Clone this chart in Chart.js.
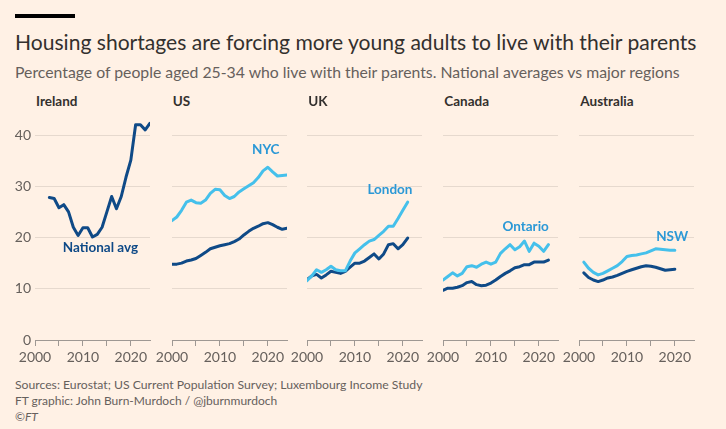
<!DOCTYPE html>
<html>
<head>
<meta charset="utf-8">
<script src="https://cdn.jsdelivr.net/npm/chart.js@4"></script>
<style>
body{margin:0;background:#fff1e5;width:726px;height:429px;overflow:hidden;position:relative;font-family:Lato,"Noto Sans",sans-serif;}
.bar{position:absolute;left:15px;top:14px;width:60px;height:4px;background:#000;}
.txt{position:absolute;left:15px;white-space:nowrap;}
.title{top:29px;font-size:21px;color:#33302e;}
.sub{top:62px;font-size:15px;color:#66605c;}
.foot{font-size:12px;color:#66605c;}
.ptitle{position:absolute;top:93px;font-size:13.5px;font-weight:bold;color:#33302e;}
canvas{position:absolute;}
</style>
</head>
<body>
<div class="bar"></div>
<div class="txt title" data-fit="682">Housing shortages are forcing more young adults to live with their parents</div>
<div class="txt sub" data-fit="665">Percentage of people aged 25-34 who live with their parents. National averages vs major regions</div>
<div class="txt foot" style="top:377px" data-fit="408">Sources: Eurostat; US Current Population Survey; Luxembourg Income Study</div>
<div class="txt foot" style="top:393px">FT graphic: John Burn-Murdoch / @jburnmurdoch</div>
<div class="txt foot" style="top:409px">©<i>FT</i></div>

<script>
// ---- data ----
const panelNames = ["Ireland", "US", "UK", "Canada", "Australia"];
const regionNames = [null, "NYC", "London", "Ontario", "NSW"];

const irelandYears = [2003,2004,2005,2006,2007,2008,2009,2010,2011,2012,2013,2014,2015,2016,2017,2018,2019,2020,2021,2022,2023,2024];
const irelandAvg = [27.8,27.6,25.8,26.4,25.0,22.0,20.4,21.9,21.9,20.1,20.6,22.0,25.0,28.0,25.6,28.0,31.8,35.1,42.0,42.0,41.0,42.3];

const usYears = [2000,2001,2002,2003,2004,2005,2006,2007,2008,2009,2010,2011,2012,2013,2014,2015,2016,2017,2018,2019,2020,2021,2022,2023,2024];
const usAvg = [14.8,14.8,15.0,15.4,15.6,15.9,16.5,17.1,17.8,18.1,18.4,18.6,18.8,19.2,19.7,20.5,21.2,21.8,22.2,22.7,22.9,22.5,22.0,21.6,21.8];
const nyc = [23.3,24.0,25.3,26.9,27.3,26.8,26.7,27.3,28.6,29.4,29.3,28.2,27.6,28.0,28.9,29.5,30.1,30.7,31.7,33.0,33.7,32.8,32.0,32.1,32.2];

const ukYears = [2000,2001,2002,2003,2004,2005,2006,2007,2008,2009,2010,2011,2012,2013,2014,2015,2016,2017,2018,2019,2020,2021];
const ukAvg = [11.8,12.5,12.8,12.1,12.7,13.4,13.2,13.0,13.4,14.2,15.0,15.0,15.4,16.1,16.8,15.8,16.8,18.6,18.8,17.8,18.6,19.9];
const london = [11.6,12.5,13.7,13.2,13.7,14.4,13.7,13.5,13.5,15.4,17.0,17.8,18.6,19.3,19.6,20.4,21.2,22.2,22.2,23.7,25.3,26.9];

const canadaYears = [2000,2001,2002,2003,2004,2005,2006,2007,2008,2009,2010,2011,2012,2013,2014,2015,2016,2017,2018,2019,2020,2021,2022];
const canadaAvg = [9.7,10.1,10.1,10.3,10.6,11.2,11.4,10.8,10.6,10.7,11.1,11.7,12.4,13.0,13.5,14.1,14.3,14.7,14.7,15.2,15.2,15.2,15.6];
const ontario = [11.7,12.4,13.1,12.5,13.0,14.3,14.5,14.2,14.8,15.2,14.8,15.2,16.9,17.8,18.6,17.6,18.2,19.3,17.3,18.9,18.3,17.3,18.6];

const ausYears = [2001,2002,2003,2004,2005,2006,2007,2008,2009,2010,2011,2012,2013,2014,2015,2016,2017,2018,2019,2020];
const ausAvg = [13.1,12.2,11.7,11.4,11.7,12.1,12.3,12.6,13.0,13.4,13.7,14.0,14.3,14.5,14.4,14.2,13.9,13.6,13.7,13.8];
const nsw = [15.2,14.0,13.2,12.7,13.0,13.5,14.0,14.5,15.3,16.3,16.5,16.6,16.8,17.0,17.4,17.8,17.7,17.6,17.5,17.5];

const yTicks = [0, 10, 20, 30, 40];
const xLabels = [2000, 2010, 2020];

// ---- styling ----
const DARK = "#0f4a87";
const LIGHT = "#45c0eb";
const LIGHT_TEXT = "#2b98d6";
const GREY = "#66605c";

function pts(years, vals) { return years.map((yr, i) => ({x: yr, y: vals[i]})); }

const panels = [
  {years: irelandYears, avg: irelandAvg, region: null, label: {text: "National avg", x: 2005.8, y: 18.1, color: DARK}},
  {years: usYears, avg: usAvg, region: nyc, label: {text: "NYC", x: 2016.7, y: 37.1, color: LIGHT_TEXT}},
  {years: ukYears, avg: ukAvg, region: london, label: {text: "London", x: 2012.6, y: 29.3, color: LIGHT_TEXT}},
  {years: canadaYears, avg: canadaAvg, region: ontario, label: {text: "Ontario", x: 2012.4, y: 22.2, color: LIGHT_TEXT}},
  {years: ausYears, avg: ausAvg, region: nsw, label: {text: "NSW", x: 2016.1, y: 20.1, color: LIGHT_TEXT}}
];

const plotLeft = [35, 171.7, 307.3, 443.3, 579.3];
const plotW = 115.2;
const yAxisW = 35, rightPad = 25;

const seriesLabel = {
  id: "seriesLabel",
  afterDatasetsDraw(chart, args, opts) {
    const it = opts.item;
    if (!it) return;
    const ctx = chart.ctx;
    ctx.save();
    ctx.font = "bold 13.5px Lato, sans-serif";
    ctx.fillStyle = it.color;
    ctx.textBaseline = "middle";
    ctx.fillText(it.text, chart.scales.x.getPixelForValue(it.x), chart.scales.y.getPixelForValue(it.y));
    ctx.restore();
  }
};

panels.forEach((p, i) => {
  const t = document.createElement("div");
  t.className = "ptitle";
  t.style.left = (plotLeft[i] + 1) + "px";
  t.textContent = panelNames[i];
  document.body.appendChild(t);

  const c = document.createElement("canvas");
  const w = yAxisW + plotW + rightPad;
  c.style.left = (plotLeft[i] - yAxisW) + "px";
  c.style.top = "110px";
  c.style.width = w + "px";
  c.style.height = "260px";
  c.width = w; c.height = 260;
  document.body.appendChild(c);

  const datasets = [];
  if (p.region) {
    datasets.push({label: regionNames[i], data: pts(p.years, p.region), borderColor: LIGHT});
  }
  datasets.push({label: "National avg", data: pts(p.years, p.avg), borderColor: DARK});

  new Chart(c, {
    type: "line",
    data: {datasets: datasets},
    options: {
      responsive: false,
      animation: false,
      layout: {padding: {left: 0, right: rightPad, top: 4.5, bottom: 0}},
      elements: {
        line: {borderWidth: 3, tension: 0, borderJoinStyle: "round", borderCapStyle: "round", fill: false},
        point: {radius: 0}
      },
      plugins: {
        legend: {display: false},
        tooltip: {enabled: false},
        seriesLabel: {item: p.label}
      },
      scales: {
        x: {
          type: "linear", min: 2000, max: 2024,
          afterFit: s => { s.height = 30; },
          border: {display: true, color: "#9e9893", width: 1},
          grid: {drawOnChartArea: false, drawTicks: true, tickLength: 6, color: "#9e9893"},
          ticks: {
            stepSize: 5, includeBounds: false, maxRotation: 0, autoSkip: false, padding: 3,
            color: GREY, font: {family: "Lato", size: 14},
            callback: v => xLabels.includes(v) ? String(v) : ""
          }
        },
        y: {
          min: 0, max: 44,
          afterFit: s => { s.width = yAxisW; s.paddingTop = 0; s.paddingBottom = 0; },
          afterBuildTicks: s => { s.ticks = yTicks.map(v => ({value: v})); },
          border: {display: false},
          grid: {drawTicks: false, color: "#e6d9ce", lineWidth: 1},
          ticks: {display: i === 0, padding: 4, color: GREY, font: {family: "Lato", size: 14}}
        }
      }
    },
    plugins: [seriesLabel]
  });
});

// fit header/footer text widths
document.querySelectorAll("[data-fit]").forEach(el => {
  const target = +el.dataset.fit;
  let fs = parseFloat(getComputedStyle(el).fontSize);
  for (let k = 0; k < 40; k++) {
    const w = el.getBoundingClientRect().width;
    if (Math.abs(w - target) < 1) break;
    fs = fs * target / w;
    el.style.fontSize = fs + "px";
  }
});
</script>
</body>
</html>
